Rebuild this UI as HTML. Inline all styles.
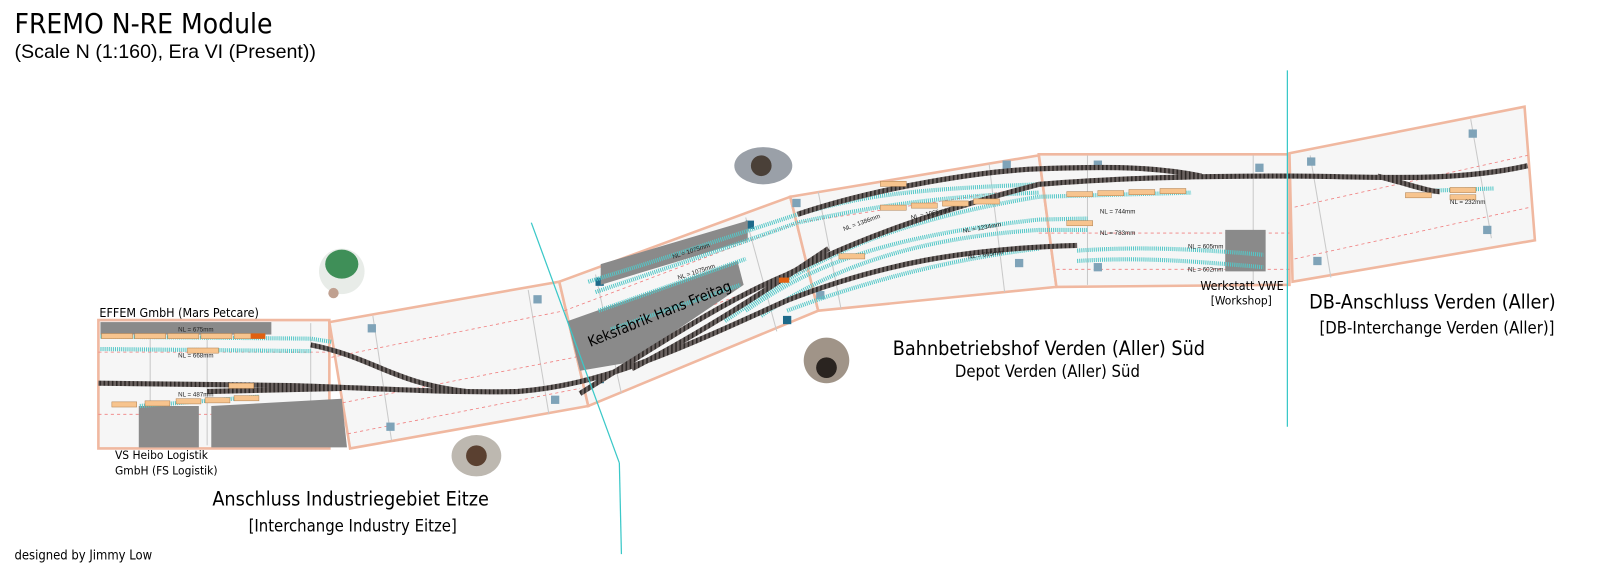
<!DOCTYPE html>
<html><head><meta charset="utf-8"><style>
html,body{margin:0;padding:0;background:#fff;}
svg{display:block}
text{font-family:"Liberation Sans",sans-serif;}
.t{font-family:"DejaVu Sans Condensed","DejaVu Sans","Liberation Sans",sans-serif;}
</style></head><body>
<svg width="1624" height="581" viewBox="0 0 1624 581" xmlns="http://www.w3.org/2000/svg">
<defs>
<pattern id="tie" width="4" height="4" patternUnits="userSpaceOnUse"><rect width="4" height="4" fill="#6a6260"/><rect width="1.5" height="4" fill="#2d2826"/></pattern>
</defs>
<g transform="scale(1.0357)">
<!-- modules -->
<g fill="#f6f6f6" stroke="#f0b8a0" stroke-width="2.5">
<polygon points="95,309 318,309 318,433 95,433"/>
<polygon points="318,311 540,272 568,392 338,433"/>
<polygon points="540,272 763,190 790,300 568,392"/>
<polygon points="763,190 1003,150 1020,277 790,300"/>
<polygon points="1003,149 1245,149 1245,275 1020,277"/>
<polygon points="1245,148 1472,103 1482,232 1248,272"/>
</g>
<g stroke="#c9c9c9" stroke-width="1" fill="none">
<line x1="145" y1="312" x2="145" y2="430"/><line x1="200" y1="312" x2="200" y2="430"/><line x1="300" y1="312" x2="300" y2="430"/>
<line x1="360" y1="305" x2="378" y2="425"/><line x1="510" y1="280" x2="530" y2="400"/>
<line x1="575" y1="265" x2="600" y2="380"/><line x1="720" y1="210" x2="750" y2="320"/>
<line x1="790" y1="185" x2="812" y2="298"/><line x1="955" y1="158" x2="970" y2="282"/>
<line x1="1050" y1="150" x2="1050" y2="275"/><line x1="1210" y1="150" x2="1210" y2="275"/>
<line x1="1265" y1="150" x2="1285" y2="268"/><line x1="1420" y1="115" x2="1440" y2="230"/>
</g>
<g stroke="#f08080" stroke-width="0.8" stroke-dasharray="3,3" fill="none">
<line x1="95" y1="340" x2="318" y2="340"/><line x1="95" y1="400" x2="318" y2="400"/>
<line x1="320" y1="345" x2="545" y2="300"/><line x1="325" y1="390" x2="555" y2="345"/><line x1="330" y1="420" x2="560" y2="375"/>
<line x1="545" y1="300" x2="770" y2="215"/><line x1="555" y1="345" x2="780" y2="260"/>
<line x1="770" y1="215" x2="1003" y2="180"/><line x1="1003" y1="225" x2="1245" y2="225"/><line x1="1020" y1="260" x2="1245" y2="260"/>
<line x1="1250" y1="200" x2="1475" y2="150"/><line x1="1250" y1="250" x2="1478" y2="200"/>
</g>
<g fill="#7fa3b8">
<rect x="515" y="285" width="8" height="8"/><rect x="355" y="313" width="8" height="8"/><rect x="532" y="382" width="8" height="8"/><rect x="373" y="408" width="8" height="8"/>
<rect x="720" y="213" width="8" height="8" fill="#1e6a8a"/><rect x="575" y="268" width="8" height="8" fill="#1e6a8a"/><rect x="756" y="305" width="8" height="8" fill="#1e6a8a"/><rect x="575" y="362" width="8" height="8" fill="#1e6a8a"/>
<rect x="765" y="192" width="8" height="8"/><rect x="980" y="250" width="8" height="8"/><rect x="968" y="155" width="8" height="8"/><rect x="788" y="281" width="8" height="8"/>
<rect x="1056" y="155" width="8" height="8"/><rect x="1056" y="254" width="8" height="8"/><rect x="1212" y="158" width="8" height="8"/>
<rect x="1262" y="152" width="8" height="8"/><rect x="1418" y="125" width="8" height="8"/><rect x="1268" y="248" width="8" height="8"/><rect x="1432" y="218" width="8" height="8"/>
</g>
<g fill="#8a8a8a">
<rect x="97" y="311" width="165" height="12"/>
<rect x="134" y="392" width="58" height="40"/>
<polygon points="204,392 330,385 335,432 204,432"/>
<polygon points="580,255 722,213 722,232 580,275"/>
<polygon points="548,310 712,252 718,275 607,350 560,358"/>
<polygon points="1183,222 1222,222 1222,262 1183,262"/>
</g>
<g stroke="#55c8c8" stroke-width="4" fill="none" stroke-dasharray="1,1">
<path d="M97,325 L300,327 L320,330"/>
<path d="M97,337 L300,339"/>
<path d="M135,392 L250,383"/>
<path d="M568,272 C640,250 700,230 770,207 C830,190 870,183 1003,178"/>
<path d="M575,282 C640,260 700,240 770,215 C840,200 900,190 1003,186"/>
<path d="M578,300 L720,250"/>
<path d="M590,318 L715,275"/>
<path d="M700,310 C760,270 820,220 1003,190 L1150,186"/>
<path d="M720,300 C780,260 840,230 1003,212 L1050,211"/>
<path d="M735,305 C800,260 880,230 1003,222 L1050,222"/>
<path d="M760,300 C840,270 920,250 1003,240"/>
<path d="M1040,242 C1100,238 1150,240 1220,246"/>
<path d="M1040,252 C1100,248 1150,252 1220,258"/>
<path d="M1385,184 L1442,182"/>
</g>
<g stroke="url(#tie)" stroke-width="5" fill="none">
<path d="M95,370 L260,372 C320,372 420,380 500,378 C580,372 650,340 760,290 C850,255 930,240 1040,237"/>
<path d="M300,333 C360,345 380,370 450,378"/>
<path d="M330,375 L200,378"/>
<path d="M560,380 C640,330 700,290 760,265 C830,230 900,205 1003,178 C1100,170 1200,170 1245,170 C1320,170 1400,177 1475,160"/>
<path d="M610,356 C680,320 740,280 800,240"/>
<path d="M770,207 C850,180 950,165 1003,163 C1080,160 1120,162 1160,170"/>
<path d="M1330,170 C1360,178 1380,185 1390,185"/>
</g>
<g fill="#f7c48e" stroke="#b08050" stroke-width="0.5">
<rect x="98" y="322" width="30" height="5"/><rect x="130" y="322" width="30" height="5"/><rect x="162" y="322" width="30" height="5"/><rect x="194" y="322" width="30" height="5"/><rect x="226" y="322" width="30" height="5"/>
<rect x="181" y="336" width="30" height="5"/><rect x="221" y="370" width="24" height="5"/>
<rect x="108" y="388" width="24" height="5"/><rect x="140" y="387" width="24" height="5"/><rect x="170" y="385" width="24" height="5"/><rect x="198" y="384" width="24" height="5"/><rect x="226" y="382" width="24" height="5"/>
<rect x="850" y="198" width="25" height="5"/><rect x="880" y="196" width="25" height="5"/><rect x="910" y="194" width="25" height="5"/><rect x="940" y="192" width="25" height="5"/>
<rect x="1030" y="185" width="25" height="5"/><rect x="1060" y="184" width="25" height="5"/><rect x="1090" y="183" width="25" height="5"/><rect x="1120" y="182" width="25" height="5"/>
<rect x="1030" y="213" width="25" height="5"/><rect x="1400" y="181" width="25" height="5"/><rect x="1400" y="188" width="25" height="5"/><rect x="1357" y="186" width="25" height="5"/>
<rect x="850" y="175" width="25" height="5"/><rect x="810" y="245" width="25" height="5"/>
</g>
<rect x="242" y="322" width="14" height="5" fill="#e06010"/>
<rect x="752" y="268" width="10" height="5" fill="#e06010"/>
<g font-size="6" fill="#222" class="t">
<text x="172" y="320">NL = 675mm</text><text x="172" y="345">NL = 668mm</text><text x="172" y="383">NL = 487mm</text>
<text x="650" y="250" transform="rotate(-18 650 250)">NL = 1075mm</text><text x="655" y="270" transform="rotate(-18 655 270)">NL = 1075mm</text>
<text x="815" y="223" transform="rotate(-20 815 223)">NL = 1386mm</text><text x="880" y="212" transform="rotate(-12 880 212)">NL = 1065mm</text><text x="930" y="225" transform="rotate(-10 930 225)">NL = 1234mm</text>
<text x="935" y="250" transform="rotate(-8 935 250)">NL = 695mm</text>
<text x="1062" y="206">NL = 744mm</text><text x="1062" y="227">NL = 783mm</text>
<text x="1147" y="240">NL = 605mm</text><text x="1147" y="262">NL = 602mm</text><text x="1400" y="197">NL = 232mm</text>
</g>
<g stroke="#3ac8c8" stroke-width="1.2"><line x1="513" y1="215" x2="598" y2="447"/><line x1="598" y1="447" x2="600" y2="535"/><line x1="1243" y1="68" x2="1243" y2="412"/></g>
<circle cx="330" cy="262" r="22" fill="#e8ece8"/><ellipse cx="330" cy="255" rx="16" ry="14" fill="#3f8f58"/><circle cx="322" cy="283" r="5" fill="#c0a090"/>
<ellipse cx="737" cy="160" rx="28" ry="18" fill="#9aa0a8"/><circle cx="735" cy="160" r="10" fill="#4a4038"/>
<ellipse cx="460" cy="440" rx="24" ry="20" fill="#bdb8b0"/><circle cx="460" cy="440" r="10" fill="#5a4030"/>
<ellipse cx="798" cy="348" rx="22" ry="22" fill="#a09488"/><circle cx="798" cy="355" r="10" fill="#2a2420"/>
<text x="14" y="32" font-size="27" class="t" fill="#000">FREMO N-RE Module</text>
<text x="14" y="56" font-size="19" fill="#000">(Scale N (1:160), Era VI (Present))</text>
<text x="96" y="306" font-size="12" class="t" fill="#000">EFFEM GmbH (Mars Petcare)</text>
<text x="111" y="443" font-size="11.5" class="t" fill="#000">VS Heibo Logistik</text>
<text x="111" y="458" font-size="11.5" class="t" fill="#000">GmbH (FS Logistik)</text>
<text x="205" y="488" font-size="19" class="t" fill="#000">Anschluss Industriegebiet Eitze</text>
<text x="240" y="513" font-size="16" class="t" fill="#000">[Interchange Industry Eitze]</text>
<text x="14" y="540" font-size="12.5" class="t" fill="#000">designed by Jimmy Low</text>
<text x="570" y="335" font-size="14" class="t" fill="#000" transform="rotate(-22 570 335)">Keksfabrik Hans Freitag</text>
<text x="862" y="343" font-size="19" class="t" fill="#000">Bahnbetriebshof Verden (Aller) Süd</text>
<text x="922" y="364" font-size="16" class="t" fill="#000">Depot Verden (Aller) Süd</text>
<text x="1159" y="280" font-size="12" class="t" fill="#000">Werkstatt VWE</text>
<text x="1169" y="294" font-size="11.5" class="t" fill="#000">[Workshop]</text>
<text x="1264" y="298" font-size="19" class="t" fill="#000">DB-Anschluss Verden (Aller)</text>
<text x="1274" y="322" font-size="16" class="t" fill="#000">[DB-Interchange Verden (Aller)]</text>
</g>
</svg>
</body></html>
